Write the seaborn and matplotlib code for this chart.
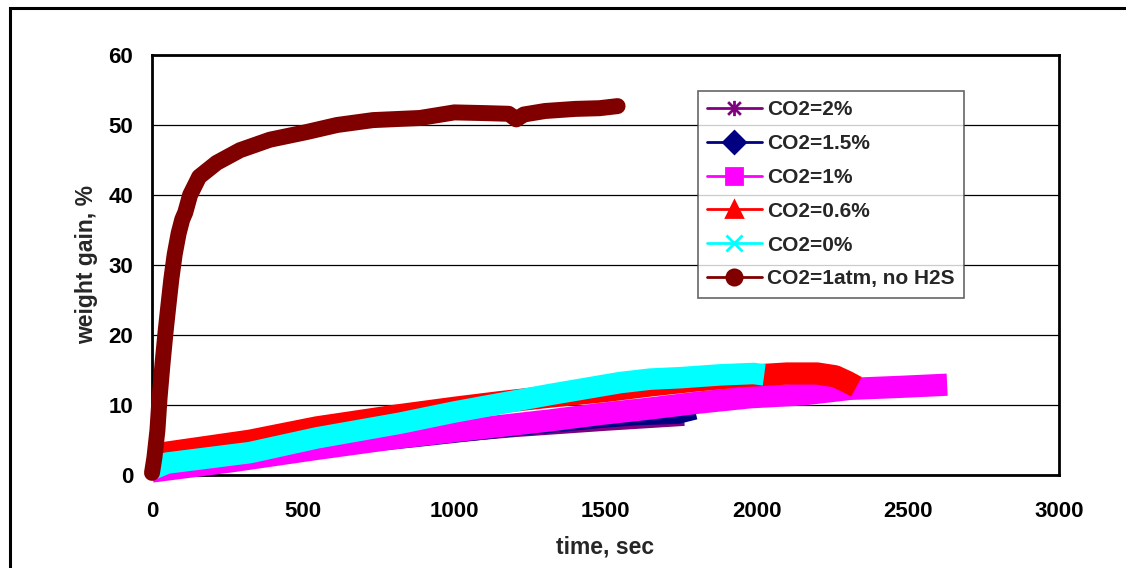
import matplotlib
matplotlib.use("Agg")
import matplotlib.pyplot as plt
from matplotlib.lines import Line2D
from matplotlib.patches import Rectangle
from matplotlib.path import Path
import pandas as pd
import seaborn as sns

# Weight gain (%) against exposure time (s) for each gas composition
t_co2_2 = [0, 60, 300, 600, 900, 1200, 1500, 1760]
w_co2_2 = [1.5, 2.9, 3.4, 4.4, 5.6, 6.7, 7.6, 8.3]

t_co2_15 = [0, 300, 634, 900, 1152, 1317, 1483, 1610, 1740, 1796]
w_co2_15 = [1.0, 2.4, 4.3, 5.5, 6.7, 7.4, 8.1, 8.5, 8.7, 9.3]

t_co2_1 = [0, 270, 540, 810, 1070, 1317, 1480, 1647, 1800, 1978, 2150, 2309, 2480, 2630]
w_co2_1 = [0.5, 2.0, 3.7, 5.3, 6.6, 7.8, 8.7, 9.5, 10.3, 11.1, 11.5, 12.3, 12.6, 12.9]

t_co2_06 = [0, 50, 324, 545, 810, 1000, 1150, 1317, 1500, 1650, 1800, 1950, 2100, 2200,
            2260, 2300, 2330]
w_co2_06 = [2.6, 3.2, 4.9, 6.8, 8.5, 9.6, 10.4, 11.2, 12.0, 12.8, 13.5, 14.1, 14.5, 14.5,
            14.1, 13.3, 12.6]

t_co2_0 = [0, 49, 324, 545, 820, 1000, 1317, 1548, 1648, 1748, 1878, 1990, 2025]
w_co2_0 = [0.8, 1.7, 3.2, 5.3, 7.4, 9.0, 11.5, 13.2, 13.7, 13.9, 14.3, 14.5, 14.3]

t_co2_atm = [0, 8, 18, 25, 35, 45, 55, 64, 75, 88, 100, 110, 126, 156, 214, 291, 390, 512,
             612, 731, 886, 1000, 1100, 1180, 1205, 1230, 1300, 1400, 1480, 1540]
w_co2_atm = [0.3, 2.5, 6.4, 11, 16, 20.5, 24.5, 28, 31.5, 34.5, 36.5, 37.5, 40, 42.6, 44.6,
             46.4, 47.9, 49, 50, 50.7, 51, 51.8, 51.7, 51.6, 50.8, 51.5, 52, 52.3, 52.4, 52.7]

labels = ["CO2=2%", "CO2=1.5%", "CO2=1%", "CO2=0.6%", "CO2=0%", "CO2=1atm, no H2S"]
times = [t_co2_2, t_co2_15, t_co2_1, t_co2_06, t_co2_0, t_co2_atm]
gains = [w_co2_2, w_co2_15, w_co2_1, w_co2_06, w_co2_0, w_co2_atm]

x_ticks = [0, 500, 1000, 1500, 2000, 2500, 3000]
y_ticks = [0, 10, 20, 30, 40, 50, 60]

# Star marker: an X crossed by a vertical stroke
star = Path([(-1, -1), (1, 1), (-1, 1), (1, -1), (0, -1.2), (0, 1.2)],
            [Path.MOVETO, Path.LINETO, Path.MOVETO, Path.LINETO, Path.MOVETO, Path.LINETO])

colors = ["#800080", "#000080", "#FF00FF", "#FF0000", "#00FFFF", "#800000"]
markers = [star, "D", "s", "^", "x", "o"]
band_widths = [13, 14, 16, 16, 15.5, 11.5]   # points; dense marker clouds form bands
caps = ["butt", "butt", "butt", "butt", "butt", "round"]

sns.set_style("white")
plt.rcParams["font.family"] = ["Liberation Sans", "DejaVu Sans"]
plt.rcParams["font.weight"] = "bold"

fig = plt.figure(figsize=(11.26, 5.68), dpi=100)
ax = fig.add_axes([152 / 1126, 1 - 475 / 568, (1059 - 152) / 1126, (475 - 55) / 568])

for lab, t, w, c, lw, cap in zip(labels, times, gains, colors, band_widths, caps):
    df = pd.DataFrame({"time": t, "gain": w})
    sns.lineplot(data=df, x="time", y="gain", ax=ax, color=c,
                 estimator=None, sort=False, legend=False)
    line = ax.lines[-1]
    line.set_linewidth(lw)
    line.set_solid_capstyle(cap)
    line.set_solid_joinstyle("round")
    line.set_clip_on(False)
    line.set_zorder(3)

ax.set_xlim(0, 3000)
ax.set_ylim(0, 60)
ax.set_xticks(x_ticks)
ax.set_yticks(y_ticks)
ax.yaxis.grid(True, color="black", linewidth=0.9)
ax.xaxis.grid(False)
ax.set_axisbelow(True)

for s in ax.spines.values():
    s.set_visible(True)
    s.set_color("black")
    s.set_linewidth(2)

ax.tick_params(axis="x", direction="in", length=6, width=1.6, pad=19,
               labelsize=16, colors="black")
ax.tick_params(axis="y", direction="in", length=7, width=1.6, pad=13.5,
               labelsize=16, colors="black")
for lbl in ax.get_xticklabels() + ax.get_yticklabels():
    lbl.set_fontweight("bold")

ax.set_xlabel("time, sec", fontsize=16.5, fontweight="bold")
ax.set_ylabel("weight gain, %", fontsize=16.5, fontweight="bold")
ax.xaxis.set_label_coords(0.4995, -0.145)
ax.yaxis.set_label_coords(-0.06, 0.5)

handles = [
    Line2D([0], [0], color=c, marker=m, markersize=11, linewidth=2,
           markerfacecolor=c, markeredgecolor=c, markeredgewidth=2)
    for c, m in zip(colors, markers)
]
leg = ax.legend(handles, labels, loc="upper left", bbox_to_anchor=(698 / 1126, 1 - 91 / 568),
                bbox_transform=fig.transFigure, borderaxespad=0, frameon=True, fancybox=False,
                handlelength=2.6, handletextpad=0.25, labelspacing=0.71,
                borderpad=0.45, prop={"weight": "bold", "size": 15})
leg.get_frame().set_edgecolor("#404040")
leg.get_frame().set_linewidth(1.2)

# Outer chart-area frame
fig.add_artist(Rectangle((10 / 1126, -0.05), 1.2, 1 - 7.5 / 568 + 0.05,
                         transform=fig.transFigure, fill=False, edgecolor="black",
                         linewidth=2.2))

fig.savefig("out.png", dpi=100)
